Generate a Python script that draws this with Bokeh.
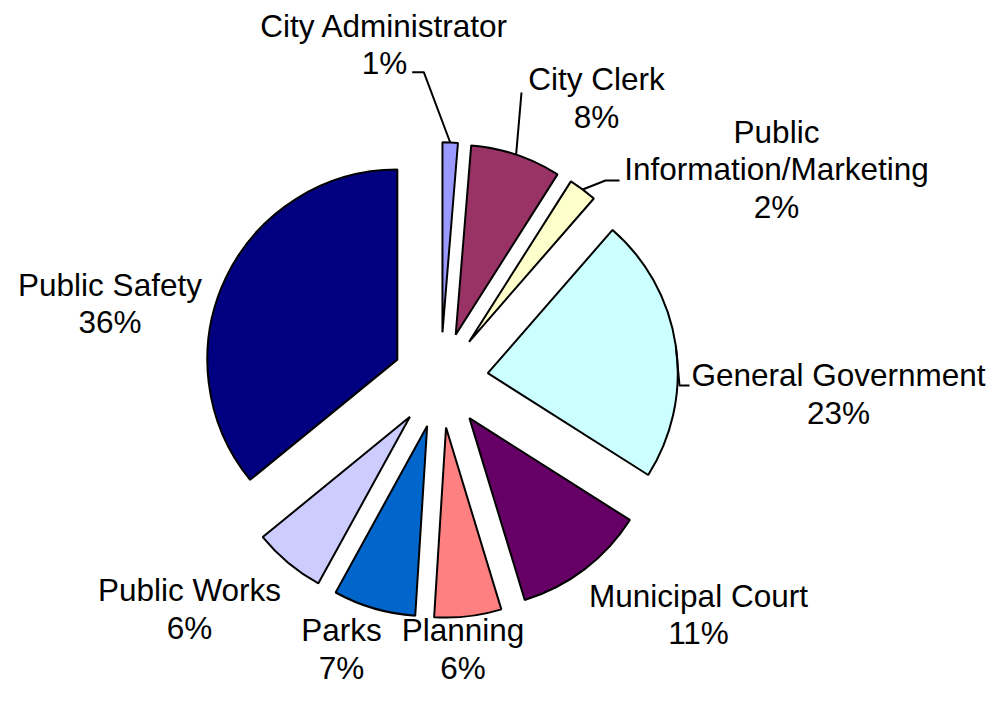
import math
from bokeh.plotting import figure
from bokeh.models import Range1d, ColumnDataSource
from bokeh.core.properties import value
from bokeh.embed import file_html
from bokeh.resources import INLINE

# ---------------- data ----------------
departments = ["City Administrator", "City Clerk", "Public\nInformation/Marketing",
               "General Government", "Municipal Court", "Planning", "Parks",
               "Public Works", "Public Safety"]
shares = [1.3, 7.7, 2.4, 22.6, 11.3, 5.7, 7.0, 6.1, 35.9]
colors = ["#9999FF", "#993366", "#FFFFCC", "#CCFFFF", "#660066",
          "#FF8080", "#0066CC", "#CCCCFF", "#000080"]

# ---------------- layout (picture pixels, origin top-left) ----------------
PAGE_H = 701
W, H = 987, 685
CX, CY = 440.0, 379.6      # common pie centre
R = 190.0                  # radius
EXPLODE = 47.8             # explosion distance
label_pos = [(384, 44), (596, 97.5), (776, 169), (838, 393.5), (698, 614),
             (462.5, 648.5), (341, 648.5), (189, 608.5), (109.5, 303)]
leader_bends = {0: [(423.3, 71.7), (411.7, 71.7)],
                1: [(521, 92)],
                2: [(605, 180), (619, 180)],
                3: [(679, 385), (689, 385)]}


def fy(y):
    return PAGE_H - y


p = figure(width=W, height=H, output_backend="svg", toolbar_location=None,
           x_range=Range1d(0, W), y_range=Range1d(PAGE_H - H, PAGE_H),
           x_axis_location=None, y_axis_location=None, min_border=0)
p.grid.visible = False
p.outline_line_color = None
p.background_fill_color = "white"

total = sum(shares)
xs, ys, starts, ends = [], [], [], []
lead_x, lead_y = [], []
labels = []
cum = 0.0
for i, v in enumerate(shares):
    a1 = cum / total * 360.0
    a2 = (cum + v) / total * 360.0
    cum += v
    mid = math.radians((a1 + a2) / 2.0)
    tx = CX + EXPLODE * math.sin(mid)
    ty = CY - EXPLODE * math.cos(mid)
    xs.append(tx)
    ys.append(fy(ty))
    starts.append(90.0 - a2)
    ends.append(90.0 - a1)
    labels.append(f"{departments[i]}\n{round(v / total * 100)}%")
    if i in leader_bends:
        sx = tx + R * math.sin(mid)
        sy = ty - R * math.cos(mid)
        pts = [(sx, sy)] + leader_bends[i]
        lead_x.append([pt[0] for pt in pts])
        lead_y.append([fy(pt[1]) for pt in pts])

src = ColumnDataSource(dict(x=xs, y=ys, start=starts, end=ends, color=colors))
p.wedge(x="x", y="y", radius=R, start_angle="start", end_angle="end",
        start_angle_units="deg", end_angle_units="deg", direction="anticlock",
        fill_color="color", line_color="black", line_width=2, source=src)

p.multi_line(xs=lead_x, ys=lead_y, line_color="black", line_width=2)

lsrc = ColumnDataSource(dict(x=[lp[0] for lp in label_pos],
                             y=[fy(lp[1]) for lp in label_pos],
                             text=labels))
p.text(x="x", y="y", text="text", source=lsrc, text_align="center",
       text_baseline="middle", text_font=value("Liberation Sans"),
       text_font_size="31.5px", text_line_height=1.04, text_color="black")

open("out.html", "w").write(file_html(p, INLINE))
